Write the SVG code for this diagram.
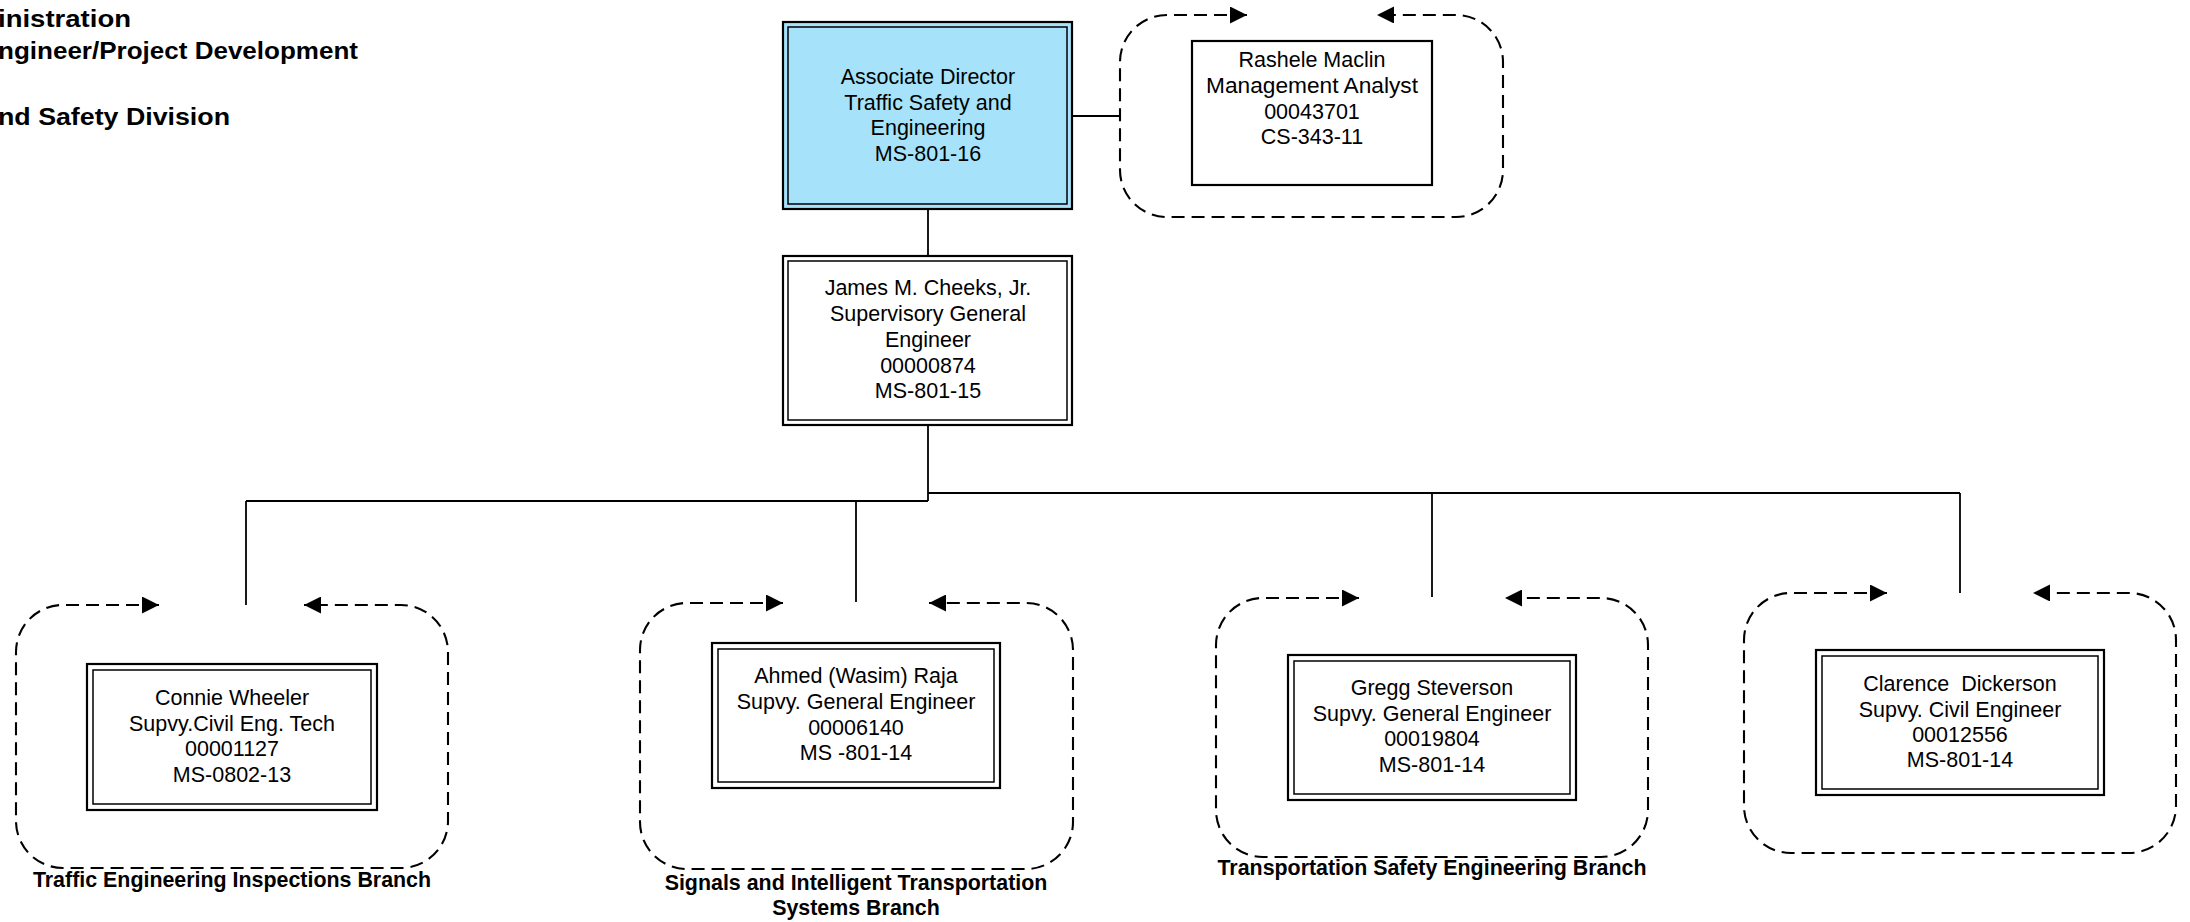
<svg xmlns="http://www.w3.org/2000/svg" width="2190" height="922" viewBox="0 0 2190 922">
<defs>
<marker id="ah" viewBox="0 0 10 10" refX="10" refY="5" markerUnits="userSpaceOnUse" markerWidth="17" markerHeight="17" orient="auto-start-reverse">
<path d="M0,0 L10,5 L0,10 z" fill="#000"/>
</marker>
<style>
.t{font-family:"Liberation Sans",Arial,sans-serif;font-size:21.5px;fill:#000;text-anchor:middle}
.b{font-family:"Liberation Sans",Arial,sans-serif;font-size:21.4px;font-weight:bold;fill:#000;text-anchor:middle}
.h{font-family:"Liberation Sans",Arial,sans-serif;font-size:23px;font-weight:bold;fill:#000}
.o{fill:#fff;stroke:#000;stroke-width:2.2}
.i{fill:none;stroke:#000;stroke-width:1.5}
.ob{fill:#a6e3fa;stroke:#000;stroke-width:2.2}
.d{fill:none;stroke:#000;stroke-width:2.1;stroke-dasharray:13 7;marker-start:url(#ah);marker-end:url(#ah)}
.c{fill:none;stroke:#000;stroke-width:1.8}
</style>
</defs>
<rect width="2190" height="922" fill="#fff"/>

<g id="title">
<text class="h" x="-2" y="27" textLength="133" lengthAdjust="spacingAndGlyphs">inistration</text>
<text class="h" x="-2" y="59" textLength="360" lengthAdjust="spacingAndGlyphs">ngineer/Project Development</text>
<text class="h" x="-2" y="125" textLength="232" lengthAdjust="spacingAndGlyphs">nd Safety Division</text>
</g>

<g id="connectors">
<path class="c" d="M928,209 V256"/>
<path class="c" d="M1072,116 H1120"/>
<path class="c" d="M928,425 V501"/>
<path class="c" d="M246,501 H928"/>
<path class="c" d="M928,493 H1960"/>
<path class="c" d="M246,501 V605"/>
<path class="c" d="M856,501 V602"/>
<path class="c" d="M1432,493 V597"/>
<path class="c" d="M1960,493 V593"/>
</g>

<g id="associate-director">
<rect class="ob" x="783" y="22" width="289" height="187"/>
<rect class="i" x="788" y="27" width="279" height="177"/>
<text class="t" x="928" y="84">Associate Director</text>
<text class="t" x="928" y="110">Traffic Safety and</text>
<text class="t" x="928" y="135">Engineering</text>
<text class="t" x="928" y="161">MS-801-16</text>
</g>

<g id="rashele-maclin">
<path class="d" d="M1247,15 H1167 A47,47 0 0 0 1120,62 V170 A47,47 0 0 0 1167,217 H1456 A47,47 0 0 0 1503,170 V62 A47,47 0 0 0 1456,15 H1377"/>
<rect class="o" x="1192" y="41" width="240" height="144"/>
<text class="t" x="1312" y="67">Rashele Maclin</text>
<text class="t" x="1312" y="93" textLength="212" lengthAdjust="spacingAndGlyphs">Management Analyst</text>
<text class="t" x="1312" y="119">00043701</text>
<text class="t" x="1312" y="144">CS-343-11</text>
</g>

<g id="james-cheeks">
<rect class="o" x="783" y="256" width="289" height="169"/>
<rect class="i" x="788" y="261" width="279" height="159"/>
<text class="t" x="928" y="295">James M. Cheeks, Jr.</text>
<text class="t" x="928" y="321">Supervisory General</text>
<text class="t" x="928" y="347">Engineer</text>
<text class="t" x="928" y="373">00000874</text>
<text class="t" x="928" y="398">MS-801-15</text>
</g>

<g id="connie-wheeler">
<path class="d" d="M159,605 H63 A47,47 0 0 0 16,652 V821 A47,47 0 0 0 63,868 H401 A47,47 0 0 0 448,821 V652 A47,47 0 0 0 401,605 H304"/>
<rect class="o" x="87" y="664" width="290" height="146"/>
<rect class="i" x="93" y="670" width="278" height="134"/>
<text class="t" x="232" y="705">Connie Wheeler</text>
<text class="t" x="232" y="731">Supvy.Civil Eng. Tech</text>
<text class="t" x="232" y="756">00001127</text>
<text class="t" x="232" y="782">MS-0802-13</text>
<text class="b" x="232" y="887">Traffic Engineering Inspections Branch</text>
</g>

<g id="ahmed-raja">
<path class="d" d="M783,603 H687 A47,47 0 0 0 640,650 V822 A47,47 0 0 0 687,869 H1026 A47,47 0 0 0 1073,822 V650 A47,47 0 0 0 1026,603 H929"/>
<rect class="o" x="712" y="643" width="288" height="145"/>
<rect class="i" x="718" y="649" width="276" height="133"/>
<text class="t" x="856" y="683">Ahmed (Wasim) Raja</text>
<text class="t" x="856" y="709">Supvy. General Engineer</text>
<text class="t" x="856" y="735">00006140</text>
<text class="t" x="856" y="760">MS -801-14</text>
<text class="b" x="856" y="890">Signals and Intelligent Transportation</text>
<text class="b" x="856" y="915">Systems Branch</text>
</g>

<g id="gregg-steverson">
<path class="d" d="M1359,598 H1263 A47,47 0 0 0 1216,645 V810 A47,47 0 0 0 1263,857 H1601 A47,47 0 0 0 1648,810 V645 A47,47 0 0 0 1601,598 H1505"/>
<rect class="o" x="1288" y="655" width="288" height="145"/>
<rect class="i" x="1294" y="661" width="276" height="133"/>
<text class="t" x="1432" y="695">Gregg Steverson</text>
<text class="t" x="1432" y="721">Supvy. General Engineer</text>
<text class="t" x="1432" y="746">00019804</text>
<text class="t" x="1432" y="772">MS-801-14</text>
<text class="b" x="1432" y="875">Transportation Safety Engineering Branch</text>
</g>

<g id="clarence-dickerson">
<path class="d" d="M1887,593 H1791 A47,47 0 0 0 1744,640 V806 A47,47 0 0 0 1791,853 H2129 A47,47 0 0 0 2176,806 V640 A47,47 0 0 0 2129,593 H2033"/>
<rect class="o" x="1816" y="650" width="288" height="145"/>
<rect class="i" x="1822" y="656" width="276" height="133"/>
<text class="t" x="1960" y="691" style="white-space:pre">Clarence  Dickerson</text>
<text class="t" x="1960" y="717">Supvy. Civil Engineer</text>
<text class="t" x="1960" y="742">00012556</text>
<text class="t" x="1960" y="767">MS-801-14</text>
</g>
</svg>
